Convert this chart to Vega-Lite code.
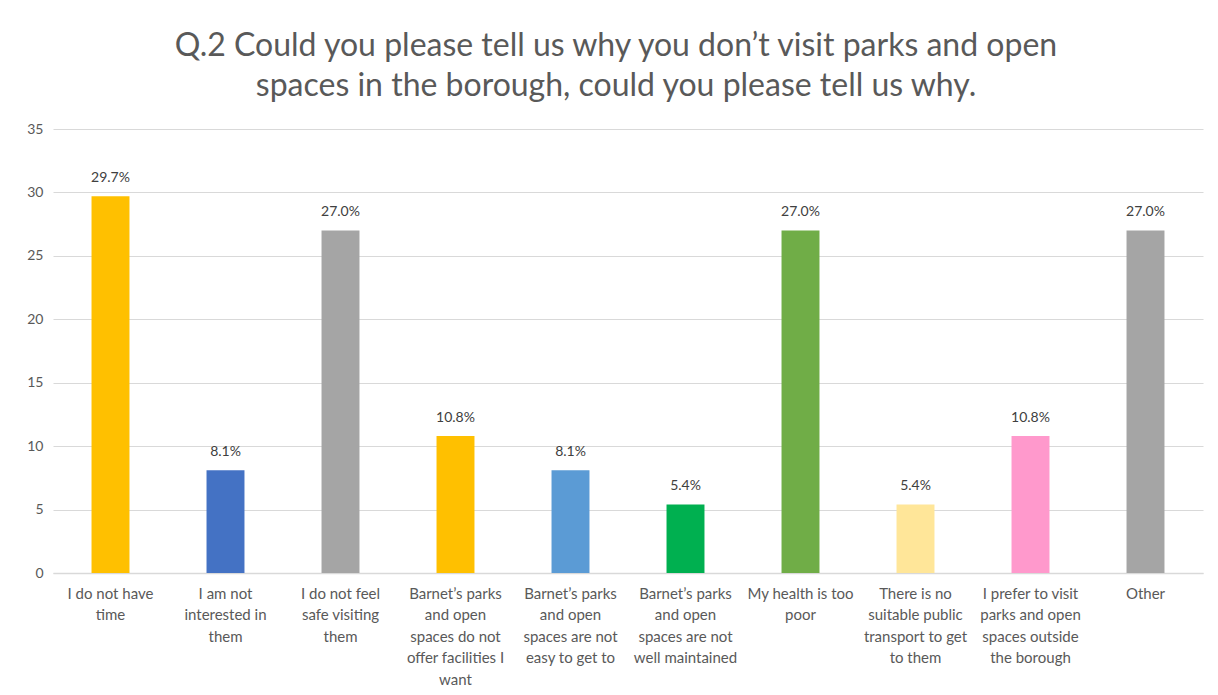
{
  "$schema": "https://vega.github.io/schema/vega-lite/v6.json",
  "width": 1150,
  "height": 444,
  "autosize": "none",
  "padding": {"left": 53, "top": 129, "right": 15, "bottom": 122},
  "background": "white",
  "title": {
    "text": ["Q.2 Could you please tell us why you don’t visit parks and open", "spaces in the borough, could you please tell us why."],
    "fontSize": 32,
    "font": "Lato",
    "fontWeight": "normal",
    "color": "#595959",
    "lineHeight": 40,
    "anchor": "middle",
    "dx": -12,
    "offset": 19
  },
  "data": {
    "values": [
      {"reason": "I do not have|time", "value": 29.7},
      {"reason": "I am not|interested in|them", "value": 8.1},
      {"reason": "I do not feel|safe visiting|them", "value": 27.0},
      {"reason": "Barnet’s parks|and open|spaces do not|offer facilities I|want", "value": 10.8},
      {"reason": "Barnet’s parks|and open|spaces are not|easy to get to", "value": 8.1},
      {"reason": "Barnet’s parks|and open|spaces are not|well maintained", "value": 5.4},
      {"reason": "My health is too|poor", "value": 27.0},
      {"reason": "There is no|suitable public|transport to get|to them", "value": 5.4},
      {"reason": "I prefer to visit|parks and open|spaces outside|the borough", "value": 10.8},
      {"reason": "Other", "value": 27.0}
    ]
  },
  "encoding": {
    "x": {
      "field": "reason",
      "type": "nominal",
      "sort": null,
      "scale": {"paddingInner": 0.67, "paddingOuter": 0.335},
      "axis": {
        "title": null,
        "labelAngle": 0,
        "labelExpr": "split(datum.label, '|')",
        "labelFont": "Lato",
        "labelFontSize": 15,
        "labelColor": "#595959",
        "labelLineHeight": 21.5,
        "labelPadding": 13,
        "labelLimit": 0,
        "ticks": false,
        "domainColor": "#d9d9d9",
        "domainWidth": 1.5,
        "labelBaseline": "top"
      }
    },
    "y": {
      "field": "value",
      "type": "quantitative",
      "scale": {"domain": [0, 35]},
      "axis": {
        "title": null,
        "values": [0, 5, 10, 15, 20, 25, 30, 35],
        "labelFont": "Lato",
        "labelFontSize": 14,
        "labelColor": "#595959",
        "labelPadding": 10,
        "ticks": false,
        "domain": false,
        "gridColor": "#d9d9d9",
        "gridWidth": 1.2
      }
    }
  },
  "layer": [
    {
      "mark": {"type": "bar"},
      "encoding": {
        "color": {
          "field": "reason",
          "type": "nominal",
          "sort": null,
          "legend": null,
          "scale": {"range": ["#FFC000", "#4472C4", "#A5A5A5", "#FFC000", "#5B9BD5", "#00B050", "#70AD47", "#FFE699", "#FF99CC", "#A5A5A5"]}
        }
      }
    },
    {
      "mark": {
        "type": "text",
        "dy": -11,
        "baseline": "bottom",
        "font": "Lato",
        "fontSize": 14,
        "color": "#404040",
        "text": {"expr": "format(datum.value, '.1f') + '%'"}
      }
    }
  ],
  "config": {"view": {"stroke": null}}
}
